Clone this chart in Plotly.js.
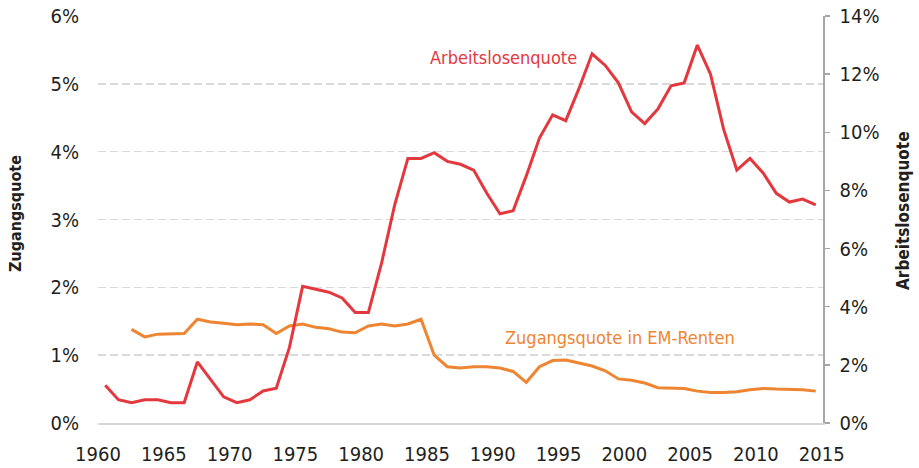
<!DOCTYPE html>
<html>
<head>
<meta charset="utf-8">
<script src="https://cdn.plot.ly/plotly-3.0.1.min.js"></script>
<style>html,body{margin:0;padding:0;background:#fff;}#chart{width:919px;height:468px;}</style>
</head>
<body>
<div id="chart"></div>
<script>
// Arbeitslosenquote (right axis, %), 1960-2014
const yearsAlq = [1960,1961,1962,1963,1964,1965,1966,1967,1968,1969,1970,1971,1972,1973,1974,1975,1976,1977,1978,1979,1980,1981,1982,1983,1984,1985,1986,1987,1988,1989,1990,1991,1992,1993,1994,1995,1996,1997,1998,1999,2000,2001,2002,2003,2004,2005,2006,2007,2008,2009,2010,2011,2012,2013,2014];
const arbeitslosenquote = [1.3,0.8,0.7,0.8,0.8,0.7,0.7,2.1,1.5,0.9,0.7,0.8,1.1,1.2,2.6,4.7,4.6,4.5,4.3,3.8,3.8,5.5,7.5,9.1,9.1,9.3,9.0,8.9,8.7,7.9,7.2,7.3,8.5,9.8,10.6,10.4,11.5,12.7,12.3,11.7,10.7,10.3,10.8,11.6,11.7,13.0,12.0,10.1,8.7,9.1,8.6,7.9,7.6,7.7,7.5];

// Zugangsquote in EM-Renten (left axis, %), 1962-2014
const yearsZq = [1962,1963,1964,1965,1966,1967,1968,1969,1970,1971,1972,1973,1974,1975,1976,1977,1978,1979,1980,1981,1982,1983,1984,1985,1986,1987,1988,1989,1990,1991,1992,1993,1994,1995,1996,1997,1998,1999,2000,2001,2002,2003,2004,2005,2006,2007,2008,2009,2010,2011,2012,2013,2014];
const zugangsquote = [1.38,1.27,1.31,1.31,1.32,1.53,1.49,1.47,1.45,1.46,1.45,1.32,1.43,1.46,1.41,1.39,1.34,1.33,1.43,1.46,1.43,1.46,1.53,1.00,0.83,0.81,0.83,0.83,0.81,0.76,0.60,0.83,0.92,0.93,0.88,0.84,0.77,0.65,0.63,0.59,0.52,0.52,0.51,0.47,0.45,0.45,0.46,0.49,0.51,0.50,0.50,0.49,0.47];

const xLabels = ['1960','1965','1970','1975','1980','1985','1990','1995','2000','2005','2010','2015'];
const leftTicks = [0,1,2,3,4,5,6];
const rightTicks = [0,2,4,6,8,10,12,14];

const RED = '#E3383D';
const ORANGE = '#EE8532';
const FONT = '"Liberation Sans Narrow", "DejaVu Sans Condensed", "Liberation Sans", sans-serif';
const TXT = '#231f20';

const traces = [
  {x: yearsZq, y: zugangsquote, type: 'scatter', mode: 'lines', yaxis: 'y',
   line: {color: ORANGE, width: 3}, name: 'Zugangsquote in EM-Renten', hoverinfo: 'x+y'},
  {x: yearsAlq, y: arbeitslosenquote, type: 'scatter', mode: 'lines', yaxis: 'y2',
   line: {color: RED, width: 3}, name: 'Arbeitslosenquote', hoverinfo: 'x+y'}
];

const W = 725, H = 407, L = 98, T = 16;
const px = x => (x - L) / W;
const py = y => (T + H - y) / H;

const layout = {
  width: 919, height: 468,
  margin: {l: L, r: 919 - L - W, t: T, b: 468 - T - H},
  paper_bgcolor: '#fff', plot_bgcolor: '#fff',
  showlegend: false,
  font: {family: FONT, size: 20, color: TXT},
  xaxis: {
    range: [1959.45, 2014.55],
    tickvals: xLabels.map(v => Number(v) - 0.55),
    ticktext: xLabels,
    showgrid: false, zeroline: false,
    showline: true, linecolor: '#d6d6d6', linewidth: 2,
    ticks: '', ticklabelstandoff: 12,
    tickfont: {family: FONT, size: 20, color: TXT}
  },
  yaxis: {
    range: [0, 6],
    tickvals: leftTicks,
    ticktext: leftTicks.map(v => v + '%'),
    showgrid: true, gridcolor: '#d9d9d9', gridwidth: 1.5, griddash: '8px,4px',
    zeroline: false, showline: false, ticks: '', ticklabelstandoff: 18,
    tickfont: {family: FONT, size: 20, color: TXT}
  },
  yaxis2: {
    range: [0, 14], overlaying: 'y', side: 'right',
    tickvals: rightTicks,
    ticktext: rightTicks.map(v => v + '%'),
    showgrid: false, zeroline: false,
    showline: true, linecolor: '#a6a6a6', linewidth: 1.5,
    ticks: 'outside', ticklen: 5, tickcolor: '#a6a6a6', tickwidth: 1.5,
    ticklabelstandoff: 6,
    tickfont: {family: FONT, size: 20, color: TXT}
  },
  annotations: [
    {text: 'Arbeitslosenquote', xref: 'paper', yref: 'paper', x: px(503), y: py(58),
     xanchor: 'center', yanchor: 'middle', showarrow: false,
     font: {family: FONT, size: 18, color: RED}},
    {text: 'Zugangsquote in EM-Renten', xref: 'paper', yref: 'paper', x: px(620), y: py(337),
     xanchor: 'center', yanchor: 'middle', showarrow: false,
     font: {family: FONT, size: 18, color: ORANGE}},
    {text: '<b>Zugangsquote</b>', xref: 'paper', yref: 'paper', x: px(15), y: py(214),
     xanchor: 'center', yanchor: 'middle', showarrow: false, textangle: -90,
     font: {family: FONT, size: 16, color: TXT}},
    {text: '<b>Arbeitslosenquote</b>', xref: 'paper', yref: 'paper', x: px(903), y: py(211),
     xanchor: 'center', yanchor: 'middle', showarrow: false, textangle: -90,
     font: {family: FONT, size: 17, color: TXT}}
  ]
};

Plotly.newPlot('chart', traces, layout, {staticPlot: true, displayModeBar: false});
</script>
</body>
</html>
